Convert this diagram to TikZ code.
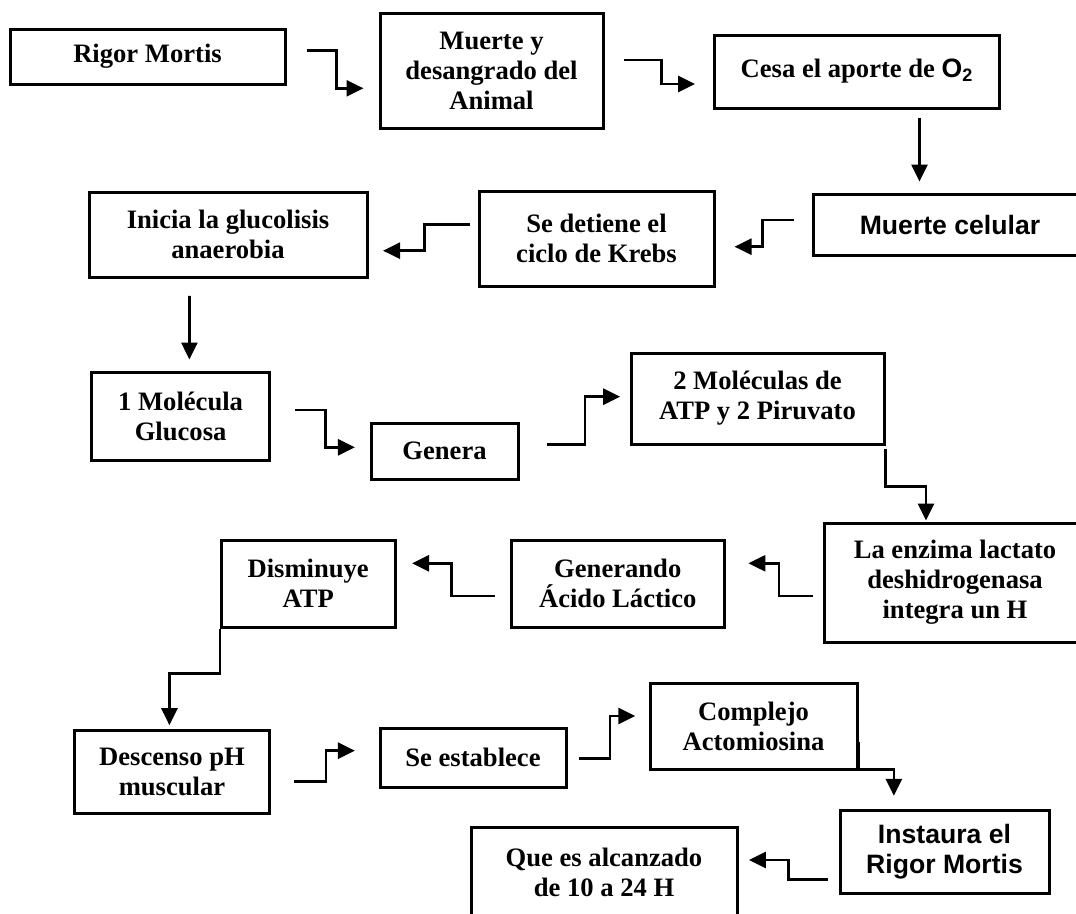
\documentclass[tikz,border=0pt]{standalone}
\usepackage{fontspec}
\setmainfont{Liberation Serif}
\newfontfamily\arialf{Liberation Sans}
\usetikzlibrary{arrows.meta,calc}
\begin{document}
\begin{tikzpicture}[x=1pt,y=-1pt,
  box/.style={draw,line width=3pt,inner sep=0pt,align=center,font=\fontsize{26.6}{30}\selectfont\bfseries},
  sansbox/.style={box,font=\fontsize{26.6}{30}\selectfont\arialf\bfseries},
  conn/.style={line width=2.7pt,-{Triangle[length=17pt,width=16pt]}}]
\useasboundingbox (0,0) rectangle (1076,913);
\begin{scope}
\clip (0,0) rectangle (1076,913);
% nodes
\node[box,minimum width=275pt,minimum height=55pt] (rigor) at (147.5,56.5) {Rigor Mortis};
\node[box,minimum width=223pt,minimum height=115pt] (muerte) at (491.5,70.5) {Muerte y\\desangrado del\\Animal};
\node[box,minimum width=285pt,minimum height=73pt] (cesa) at (856.5,71.5) {Cesa el aporte de {\arialf O{\fontsize{18}{18}\selectfont\raisebox{-4pt}{2}}}};
\node[sansbox,minimum width=273pt,minimum height=61pt] (celular) at (950,224.5) {Muerte celular};
\node[box,minimum width=235pt,minimum height=95pt] (krebs) at (596.5,238.5) {Se detiene el\\ciclo de Krebs};
\node[box,minimum width=278pt,minimum height=85pt] (inicia) at (228,234.5) {Inicia la glucolisis\\anaerobia};
\node[box,minimum width=178pt,minimum height=88pt] (glucosa) at (180.6,416) {1 Molécula\\Glucosa};
\node[box,minimum width=147pt,minimum height=56pt] (genera) at (444.5,451) {Genera};
\node[box,minimum width=253pt,minimum height=91pt] (atp) at (757.5,398.5) {2 Moléculas de\\ATP y 2 Piruvato};
\node[box,minimum width=262pt,minimum height=119pt] (enzima) at (955,582.5) {La enzima lactato\\deshidrogenasa\\integra un H};
\node[box,minimum width=213.5pt,minimum height=87pt] (generando) at (617.75,583.5) {Generando\\Ácido Láctico};
\node[box,minimum width=173.6pt,minimum height=87pt] (disminuye) at (308.2,583.5) {Disminuye\\ATP};
\node[box,minimum width=195pt,minimum height=83pt] (descenso) at (172,771.5) {Descenso pH\\muscular};
\node[box,minimum width=186pt,minimum height=59pt] (establece) at (473,757.5) {Se establece};
\node[box,minimum width=207pt,minimum height=86pt] (complejo) at (753.5,726) {Complejo\\Actomiosina};
\node[sansbox,minimum width=209pt,minimum height=83pt] (instaura) at (944.5,851.5) {Instaura el\\Rigor Mortis};
\node[box,minimum width=266pt,minimum height=90pt] (quees) at (604,872) {Que es alcanzado\\de 10 a 24 H};
% connectors
\draw[conn] ($(rigor.east)+(20,-5.8)$) -- ++(30,0) |- ($(muerte.west)+(-15,17.8)$);
\draw[conn] ($(muerte.east)+(19,-10.5)$) -- ++(37.7,0) |- ($(cesa.west)+(-17.4,12.5)$);
\draw[conn] ($(cesa.south)+(63,8.7)$) -- ($(celular.north)+(-30.5,-11)$);
\draw[conn] ($(celular.west)+(-17.8,-4.5)$) -- ++(-31.7,0) |- ($(krebs.east)+(19,8.2)$);
\draw[conn] ($(krebs.west)+(-8,-14.2)$) -- ++(-44.7,0) |- ($(inicia.east)+(14.5,16.2)$);
\draw[conn] ($(inicia.south)+(-38.6,17.3)$) -- ($(glucosa.north)+(8.8,-11)$);
\draw[conn] ($(glucosa.east)+(23.4,-6)$) -- ++(31,0) |- ($(genera.west)+(-14.6,-3.7)$);
\draw[conn] ($(genera.east)+(27.2,-6.7)$) -- ++(38.3,0) |- ($(atp.west)+(-9.3,-1.8)$);
\draw[conn] ($(atp.south east)+(0,3)$) -- ++(0,38) -| ($(enzima.north)+(-29,-1)$);
\draw[conn] ($(enzima.west)+(-9.2,13.5)$) -- ++(-34.2,0) |- ($(generando.east)+(22.4,-20.2)$);
\draw[conn] ($(generando.west)+(-14.4,12.5)$) -- ++(-43.8,0) |- ($(disminuye.east)+(15.5,-20.2)$);
\draw[conn] (disminuye.south west) -- ++(0,45.3) -| ($(descenso.north)+(-2.6,-3.3)$);
\draw[conn] ($(descenso.east)+(23.4,10.2)$) -- ++(31.7,0) |- ($(establece.west)+(-23.6,-6.8)$);
\draw[conn] ($(establece.east)+(11.7,0.8)$) -- ++(30.8,0) |- ($(complejo.west)+(-13.2,-10)$);
\draw[conn] ($(complejo.east)+(0,15.7)$) -- ++(0,27.6) -| ($(instaura.north)+(-50.6,-12.7)$);
\draw[conn] ($(instaura.west)+(-10.8,27.8)$) -- ++(-39.2,0) |- ($(quees.east)+(10.4,-12)$);
\end{scope}
\end{tikzpicture}
\end{document}
